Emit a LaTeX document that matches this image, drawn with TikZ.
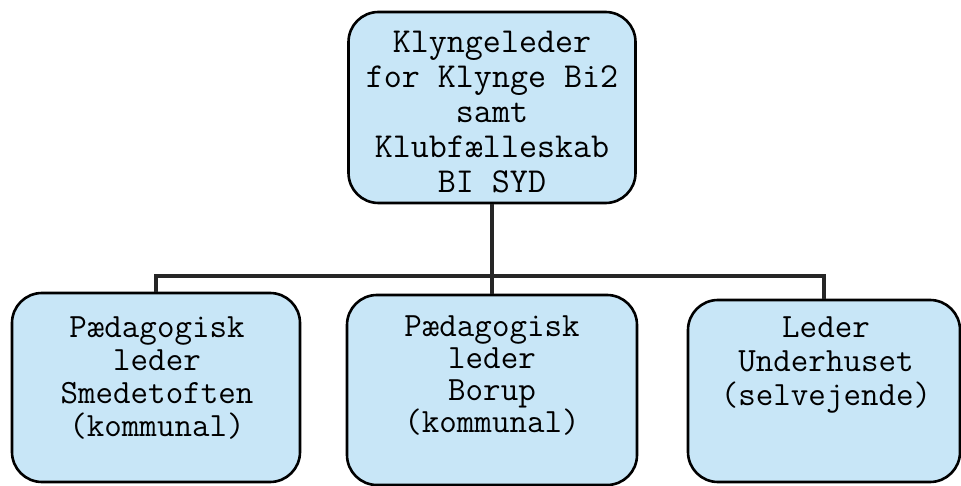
\documentclass[tikz,border=0pt]{standalone}
\usepackage{fontspec}
\definecolor{boxfill}{RGB}{200,230,247}
\begin{document}
\begin{tikzpicture}[x=1pt,y=-1pt,
  orgbox/.style={draw=black, line width=2.6pt, fill=boxfill, rounded corners=30pt, inner sep=0pt},
  orgtext/.style={align=center, inner sep=0pt, text=black},
  conn/.style={draw=black!85, line width=4pt}]
\useasboundingbox (0,0) rectangle (961,486);
\node[orgbox, minimum width=287pt, minimum height=191pt] (top) at (492,107.5) {};
\node[orgbox, minimum width=288pt, minimum height=189pt] (left) at (156,387.5) {};
\node[orgbox, minimum width=290pt, minimum height=190pt] (mid) at (492,390) {};
\node[orgbox, minimum width=272pt, minimum height=182pt] (right) at (824,391) {};
\coordinate (bus) at (492,276);
\draw[conn] (top.south) -- (mid.north);
\draw[conn] (left.north) |- (bus) -| (right.north);
\node[orgtext, font=\ttfamily\fontsize{35}{35}\selectfont] (topT) at (492,112) {Klyngeleder\\for Klynge Bi2\\samt\\Klubfælleskab\\BI SYD};
\node[orgtext, font=\ttfamily\fontsize{34}{33}\selectfont] (leftT) at (157,378) {Pædagogisk\\leder\\Smedetoften\\(kommunal)};
\node[orgtext, font=\ttfamily\fontsize{34}{32}\selectfont] (midT) at (492,376) {Pædagogisk\\leder\\Borup\\(kommunal)};
\node[orgtext, font=\ttfamily\fontsize{34}{34}\selectfont] (rightT) at (826,365) {Leder\\Underhuset\\(selvejende)};
\end{tikzpicture}
\end{document}
